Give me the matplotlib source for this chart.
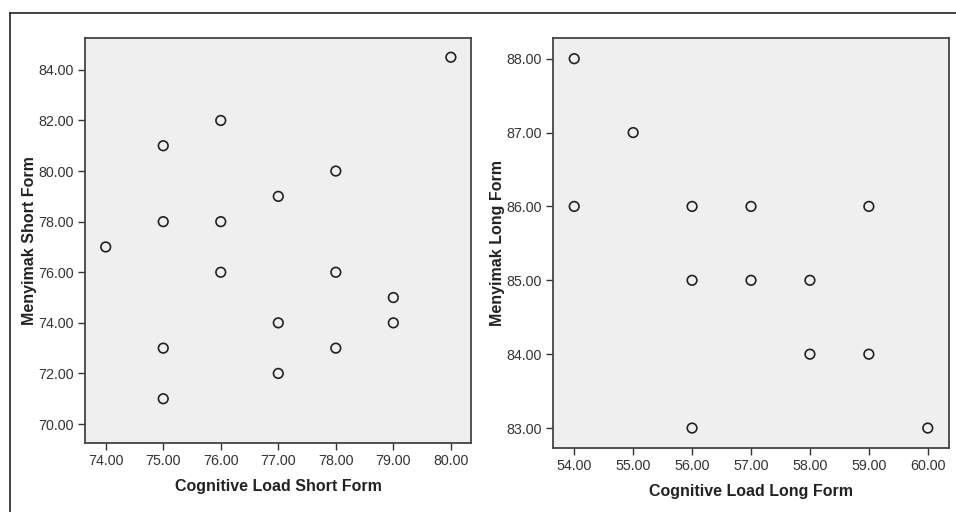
import matplotlib
matplotlib.use("Agg")
import matplotlib.pyplot as plt
from matplotlib.lines import Line2D

plt.rcParams['font.family'] = ['Liberation Sans', 'DejaVu Sans']

# short form
short_x = [80, 76, 75, 78, 77, 75, 76, 74, 76, 78, 79, 77, 79, 75, 78, 77, 75]
short_y = [84.5, 82, 81, 80, 79, 78, 78, 77, 76, 76, 75, 74, 74, 73, 73, 72, 71]
short_xticks = [74, 75, 76, 77, 78, 79, 80]
short_yticks = [70, 72, 74, 76, 78, 80, 82, 84]

# long form
long_x = [54, 55, 54, 56, 57, 59, 56, 57, 58, 58, 59, 56, 60]
long_y = [88, 87, 86, 86, 86, 86, 85, 85, 85, 84, 84, 83, 83]
long_xticks = [54, 55, 56, 57, 58, 59, 60]
long_yticks = [83, 84, 85, 86, 87, 88]

fig = plt.figure(figsize=(9.56, 5.12), dpi=100)
W, H = 956, 512

# outer frame lines (top and left)
fig.add_artist(Line2D([10 / W, 1], [1 - 13 / H, 1 - 13 / H], color='#222222', lw=1.2))
fig.add_artist(Line2D([10 / W, 10 / W], [0, 1 - 13 / H], color='#222222', lw=1.2))


def panel(rect, x, y, xt, yt, xlim, ylim, xlabel, ylabel):
    l, t, r, b = rect
    ax = fig.add_axes([l / W, 1 - b / H, (r - l) / W, (b - t) / H])
    ax.set_facecolor('#efefef')
    ax.scatter(x, y, s=48, facecolors='none', edgecolors='#222222', linewidths=1.2, zorder=3)
    ax.set_xlim(*xlim)
    ax.set_ylim(*ylim)
    ax.set_xticks(xt)
    ax.set_yticks(yt)
    ax.set_xticklabels([f"{v:.2f}" for v in xt])
    ax.set_yticklabels([f"{v:.2f}" for v in yt])
    ax.tick_params(direction='out', length=5, width=1, color='#333333',
                   labelsize=10.3, labelcolor='#333333', pad=3)
    for s in ax.spines.values():
        s.set_color('#444444')
        s.set_linewidth(1.3)
    ax.set_xlabel(xlabel, fontsize=11.5, fontweight='bold', color='#222222', labelpad=8)
    ax.set_ylabel(ylabel, fontsize=11.5, fontweight='bold', color='#222222', labelpad=1)
    return ax


panel((85, 38, 471, 443), short_x, short_y, short_xticks, short_yticks,
      (73.64, 80.35), (69.25, 85.26),
      'Cognitive Load Short Form', 'Menyimak Short Form')
panel((553, 38, 949, 448), long_x, long_y, long_xticks, long_yticks,
      (53.64, 60.36), (82.73, 88.28),
      'Cognitive Load Long Form', 'Menyimak Long Form')

fig.savefig('out.png', dpi=100, facecolor='white')
